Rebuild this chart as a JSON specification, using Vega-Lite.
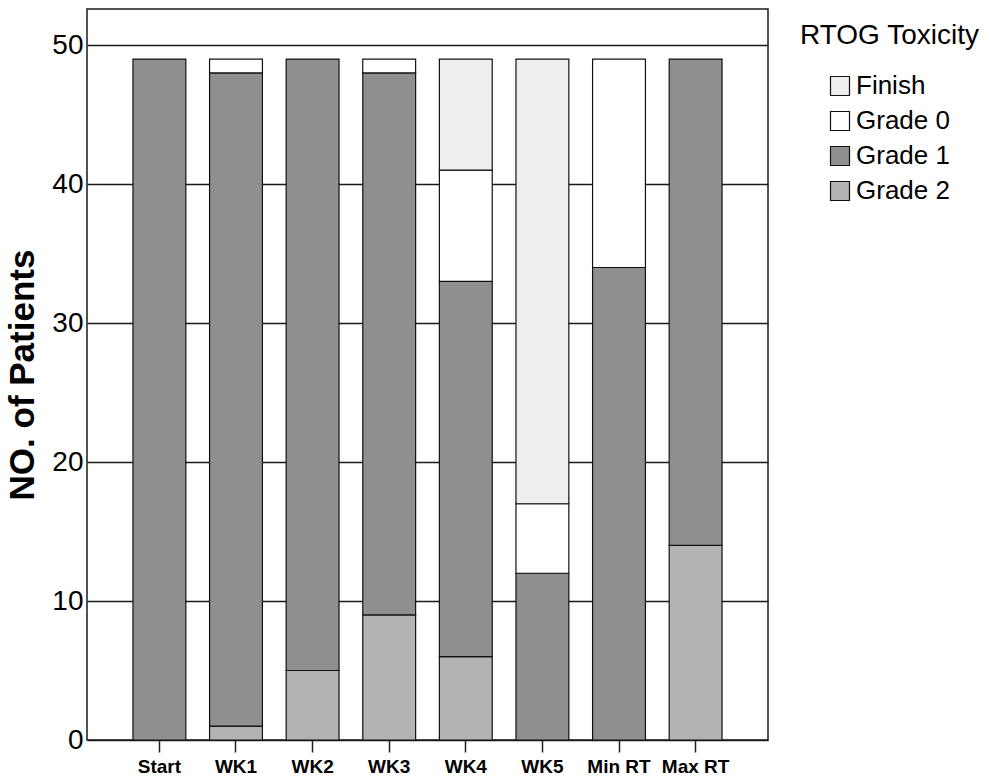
{
  "$schema": "https://vega.github.io/schema/vega-lite/v6.json",
  "width": 681,
  "height": 731,
  "autosize": {"type": "none"},
  "padding": {"left": 87, "top": 9, "right": 222, "bottom": 41},
  "background": "white",
  "config": {
    "font": "Liberation Sans",
    "view": {"stroke": "#1a1a1a", "strokeWidth": 1.5}
  },
  "data": {
    "values": [
      {"time": "Start", "grade": "Grade 1", "n": 49},
      {"time": "WK1", "grade": "Grade 2", "n": 1},
      {"time": "WK1", "grade": "Grade 1", "n": 47},
      {"time": "WK1", "grade": "Grade 0", "n": 1},
      {"time": "WK2", "grade": "Grade 2", "n": 5},
      {"time": "WK2", "grade": "Grade 1", "n": 44},
      {"time": "WK3", "grade": "Grade 2", "n": 9},
      {"time": "WK3", "grade": "Grade 1", "n": 39},
      {"time": "WK3", "grade": "Grade 0", "n": 1},
      {"time": "WK4", "grade": "Grade 2", "n": 6},
      {"time": "WK4", "grade": "Grade 1", "n": 27},
      {"time": "WK4", "grade": "Grade 0", "n": 8},
      {"time": "WK4", "grade": "Finish", "n": 8},
      {"time": "WK5", "grade": "Grade 1", "n": 12},
      {"time": "WK5", "grade": "Grade 0", "n": 5},
      {"time": "WK5", "grade": "Finish", "n": 32},
      {"time": "Min RT", "grade": "Grade 1", "n": 34},
      {"time": "Min RT", "grade": "Grade 0", "n": 15},
      {"time": "Max RT", "grade": "Grade 2", "n": 14},
      {"time": "Max RT", "grade": "Grade 1", "n": 35}
    ]
  },
  "mark": {"type": "bar", "stroke": "#111111", "strokeWidth": 1.2},
  "encoding": {
    "x": {
      "field": "time",
      "type": "nominal",
      "sort": ["Start", "WK1", "WK2", "WK3", "WK4", "WK5", "Min RT", "Max RT"],
      "scale": {"paddingInner": 0.31, "paddingOuter": 0.6},
      "axis": {
        "title": null,
        "labelAngle": 0,
        "labelFont": "Liberation Sans",
        "labelFontSize": 19,
        "labelFontWeight": "bold",
        "labelColor": "#000000",
        "labelPadding": 5,
        "ticks": true,
        "tickSize": 12,
        "tickColor": "#222222",
        "tickWidth": 1.5,
        "domain": false,
        "grid": false
      }
    },
    "y": {
      "field": "n",
      "type": "quantitative",
      "stack": "zero",
      "scale": {"domain": [0, 52.6], "nice": false},
      "axis": {
        "title": "NO. of Patients",
        "titleFont": "Liberation Sans",
        "titleFontSize": 35,
        "titleFontWeight": "bold",
        "titleColor": "#000000",
        "titlePadding": 11,
        "values": [0, 10, 20, 30, 40, 50],
        "labelFont": "Liberation Sans",
        "labelFontSize": 28,
        "labelColor": "#000000",
        "labelPadding": 4,
        "ticks": false,
        "domain": false,
        "grid": true,
        "gridColor": "#1a1a1a",
        "gridWidth": 1.5,
        "gridOpacity": 1
      }
    },
    "fill": {
      "field": "grade",
      "type": "nominal",
      "scale": {
        "domain": ["Finish", "Grade 0", "Grade 1", "Grade 2"],
        "range": ["#eeeeee", "#ffffff", "#8f8f8f", "#b3b3b3"]
      },
      "legend": {
        "title": "RTOG Toxicity",
        "orient": "none",
        "legendX": 713,
        "legendY": 13,
        "padding": 0,
        "titleFont": "Liberation Sans",
        "titleFontSize": 28,
        "titleFontWeight": "normal",
        "titleColor": "#000000",
        "titlePadding": 23,
        "symbolType": "square",
        "symbolSize": 361,
        "symbolStrokeColor": "#111111",
        "symbolStrokeWidth": 1.2,
        "symbolOffset": 27,
        "labelFont": "Liberation Sans",
        "labelFontSize": 26,
        "labelColor": "#000000",
        "labelOffset": 3,
        "rowPadding": 9
      }
    },
    "order": {"field": "grade", "sort": "descending"}
  }
}
